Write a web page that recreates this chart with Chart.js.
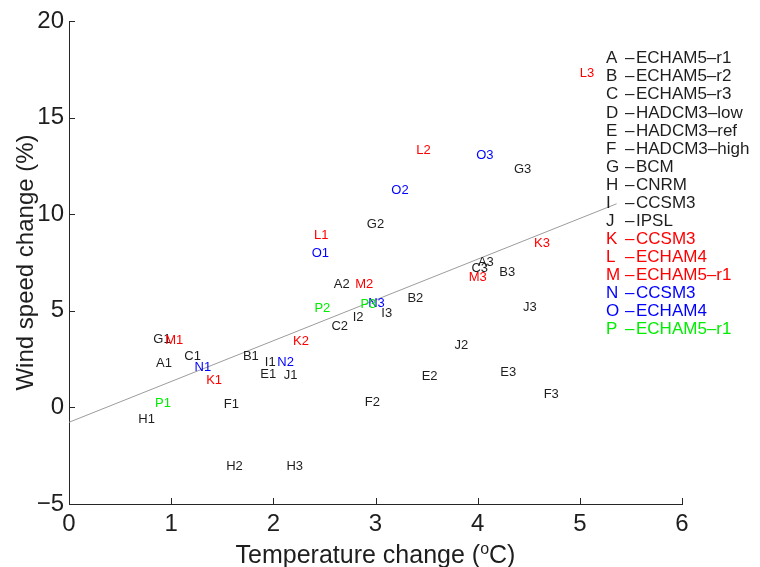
<!DOCTYPE html>
<html>
<head>
<meta charset="utf-8">
<style>
  html, body { margin: 0; padding: 0; background: #fff; }
</style>
<script src="https://cdn.jsdelivr.net/npm/chart.js@4.4.1/dist/chart.umd.min.js"></script>
</head>
<body>
<canvas id="myChart" width="760" height="567"></canvas>
<script>
// model runs: label, temperature change (oC), wind speed change (%)
const pointNames = ["A1","A2","A3","B1","B2","B3","C1","C2","C3","E1","E2","E3","F1","F2","F3",
	"G1","G2","G3","H1","H2","H3","I1","I2","I3","J1","J2","J3","K1","K2","K3",
	"L1","L2","L3","M1","M2","M3","N1","N2","N3","O1","O2","O3","P1","P2","P3"];
const tempChange = [0.93,2.67,4.08, 1.78,3.39,4.29, 1.21,2.65,4.02, 1.95,3.53,4.30, 1.59,2.97,4.72,
	0.91,3.00,4.44, 0.76,1.62,2.21, 1.97,2.83,3.11, 2.17,3.84,4.51, 1.42,2.27,4.63,
	2.47,3.47,5.07, 1.03,2.89,4.00, 1.31,2.12,3.01, 2.46,3.24,4.07, 0.92,2.48,2.93];
const windChange = [2.35,6.44,7.58, 2.71,5.71,7.06, 2.71,4.27,7.27, 1.78,1.68,1.88, 0.23,0.33,0.75,
	3.59,9.54,12.39, -0.55,-2.98,-2.98, 2.40,4.73,4.94, 1.73,3.28,5.25, 1.47,3.49,8.56,
	8.98,13.37,17.32, 3.54,6.44,6.80, 2.14,2.40,5.46, 8.04,11.30,13.12, 0.28,5.20,5.40];

// regression line end points
const fitX = [0, 5.36];
const fitY = [-0.77, 10.54];

// legend
const legendLetters = ["A","B","C","D","E","F","G","H","I","J","K","L","M","N","O","P"];
const legendModels = ["ECHAM5\u2013r1","ECHAM5\u2013r2","ECHAM5\u2013r3","HADCM3\u2013low","HADCM3\u2013ref",
	"HADCM3\u2013high","BCM","CNRM","CCSM3","IPSL","CCSM3","ECHAM4","ECHAM5\u2013r1","CCSM3","ECHAM4","ECHAM5\u2013r1"];

const xTicks = [0,1,2,3,4,5,6];
const yTicks = [-5,0,5,10,15,20];

// colour by letter group
const BLACK = "#1e1e1e";
const groupColor = {K:"#ff0000", L:"#ff0000", M:"#ff0000", N:"#0000ff", O:"#0000ff", P:"#00ee00"};
const colorFor = letter => groupColor[letter] || BLACK;

const FONT = "'Liberation Sans', Arial, Helvetica, sans-serif";

const labelPlugin = {
	id: "labelPlugin",
	afterDraw(chart) {
		const ctx = chart.ctx;
		const xs = chart.scales.x, ys = chart.scales.y;
		ctx.save();

		// inward ticks
		ctx.strokeStyle = "#262626";
		ctx.lineWidth = 1;
		ctx.beginPath();
		xTicks.forEach(v => {
			const px = Math.round(xs.getPixelForValue(v)) + 0.5;
			ctx.moveTo(px, ys.bottom);
			ctx.lineTo(px, ys.bottom - 6);
		});
		yTicks.forEach(v => {
			const py = Math.round(ys.getPixelForValue(v)) + 0.5;
			ctx.moveTo(xs.left, py);
			ctx.lineTo(xs.left + 6, py);
		});
		ctx.stroke();

		// point labels
		const meta = chart.getDatasetMeta(0);
		ctx.font = "13px " + FONT;
		ctx.textAlign = "center";
		ctx.textBaseline = "alphabetic";
		meta.data.forEach((pt, i) => {
			ctx.fillStyle = colorFor(pointNames[i][0]);
			ctx.fillText(pointNames[i], pt.x, pt.y + 4.7);
		});

		// legend
		ctx.font = "17px " + FONT;
		ctx.textAlign = "left";
		legendLetters.forEach((letter, i) => {
			const y = 57.2 + i * 18.07 + 6.1;
			ctx.fillStyle = colorFor(letter);
			ctx.fillText(letter, 606, y);
			ctx.fillText("\u2013", 625, y);
			ctx.fillText(legendModels[i], 636, y);
		});

		// y axis title
		ctx.fillStyle = BLACK;
		ctx.font = "24px " + FONT;
		ctx.textAlign = "center";
		ctx.translate(33, (ys.top + ys.bottom) / 2);
		ctx.rotate(-Math.PI / 2);
		ctx.fillText("Wind speed change (%)", 0, 0);
		ctx.setTransform(1, 0, 0, 1, 0, 0);

		// x axis title with superscript o
		const partA = "Temperature change (", partB = "o", partC = "C)";
		const big = "25px " + FONT, small = "16px " + FONT;
		ctx.font = big;
		const wA = ctx.measureText(partA).width, wC = ctx.measureText(partC).width;
		ctx.font = small;
		const wB = ctx.measureText(partB).width;
		let x0 = (xs.left + xs.right) / 2 - (wA + wB + wC) / 2;
		const base = 563;
		ctx.textAlign = "left";
		ctx.font = big;
		ctx.fillText(partA, x0, base);
		ctx.font = small;
		ctx.fillText(partB, x0 + wA, base - 9);
		ctx.font = big;
		ctx.fillText(partC, x0 + wA + wB, base);

		ctx.restore();
	}
};

const myChart = new Chart(document.getElementById("myChart"), {
	type: "scatter",
	data: {
		datasets: [{
			label: "runs",
			data: pointNames.map((n, i) => ({x: tempChange[i], y: windChange[i]})),
			pointRadius: 0,
			pointHoverRadius: 0
		}, {
			type: "line",
			label: "fit",
			data: fitX.map((x, i) => ({x: x, y: fitY[i]})),
			borderColor: "#9c9c9c",
			borderWidth: 1,
			pointRadius: 0,
			fill: false
		}]
	},
	options: {
		responsive: false,
		animation: false,
		devicePixelRatio: 1,
		layout: {padding: {top: 21, right: 78, left: 0, bottom: 0}},
		plugins: {legend: {display: false}, tooltip: {enabled: false}},
		scales: {
			x: {
				type: "linear", min: 0, max: 6,
				ticks: {stepSize: 1, color: BLACK, padding: 6, maxRotation: 0, font: {size: 24, family: FONT}},
				grid: {display: false, drawTicks: false},
				border: {display: true, color: "#262626", width: 1},
				afterFit: s => { s.height = 63; }
			},
			y: {
				min: -5, max: 20,
				ticks: {stepSize: 5, color: BLACK, padding: 5, font: {size: 24, family: FONT},
					callback: v => v < 0 ? "\u2212" + Math.abs(v) : String(v)},
				grid: {display: false, drawTicks: false},
				border: {display: true, color: "#262626", width: 1},
				afterFit: s => { s.width = 69; }
			}
		}
	},
	plugins: [labelPlugin]
});
</script>
</body>
</html>
